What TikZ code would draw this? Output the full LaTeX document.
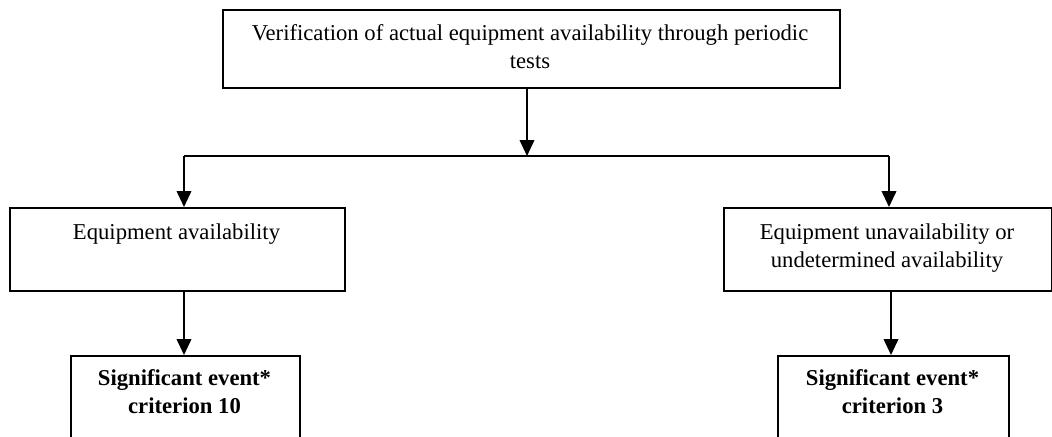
\documentclass[tikz,border=0pt]{standalone}
\usepackage{fontspec}
\setmainfont{Liberation Serif}
\usetikzlibrary{arrows.meta}

\tikzset{
  box/.style={draw, line width=1.3pt, inner sep=0pt, anchor=north west},
  txt/.style={align=center, inner sep=0pt, anchor=base, font=\fontsize{17}{21}\selectfont},
  freccia/.style={-{Triangle[length=12pt,width=11pt]}, line width=1.3pt},
}

\begin{document}
\begin{tikzpicture}[x=0.75pt, y=-0.75pt]
    \useasboundingbox (0,0) rectangle (1052,436);
    \clip (0,0) rectangle (1052,436);
    % riquadri
    \node[box, minimum width=462.75pt, minimum height=58.5pt] (verif) at (222,9) {};
    \node[box, minimum width=251.25pt, minimum height=62.25pt] (disp) at (9,207) {};
    \node[box, minimum width=246pt, minimum height=62.25pt] (indisp) at (723,207) {};
    \node[box, minimum width=171.75pt, minimum height=90pt] (crit10) at (70,355) {};
    \node[box, minimum width=173.25pt, minimum height=90pt] (crit3) at (777,355) {};
    % testi (anchor base = ultima riga)
    \node[txt] (verif-t) at (530,68) {Verification of actual equipment availability through periodic\\tests};
    \node[txt] (disp-t) at (176.5,239) {Equipment availability};
    \node[txt] (indisp-t) at (887,267) {Equipment unavailability or\\undetermined availability};
    \node[txt, font=\fontsize{17}{21}\selectfont\bfseries] (crit10-t) at (184.5,413) {Significant event*\\criterion 10};
    \node[txt, font=\fontsize{17}{21}\selectfont\bfseries] (crit3-t) at (892.5,413) {Significant event*\\criterion 3};
    % diramazione
    \coordinate (ramo) at (527,156);
    \coordinate (ramo-sx) at (184,156);
    \coordinate (ramo-dx) at (889,156);
    \coordinate (giu-dx) at (891,156);
    \draw[freccia] (ramo |- verif.south) -- (ramo);
    \draw[line width=1.3pt] (ramo-sx) -- (ramo-dx);
    \draw[freccia] (ramo-sx) -- (ramo-sx |- disp.north);
    \draw[freccia] (ramo-dx) -- (ramo-dx |- indisp.north);
    \draw[freccia] (ramo-sx |- disp.south) -- (ramo-sx |- crit10.north);
    \draw[freccia] (giu-dx |- indisp.south) -- (giu-dx |- crit3.north);
\end{tikzpicture}
\end{document}
